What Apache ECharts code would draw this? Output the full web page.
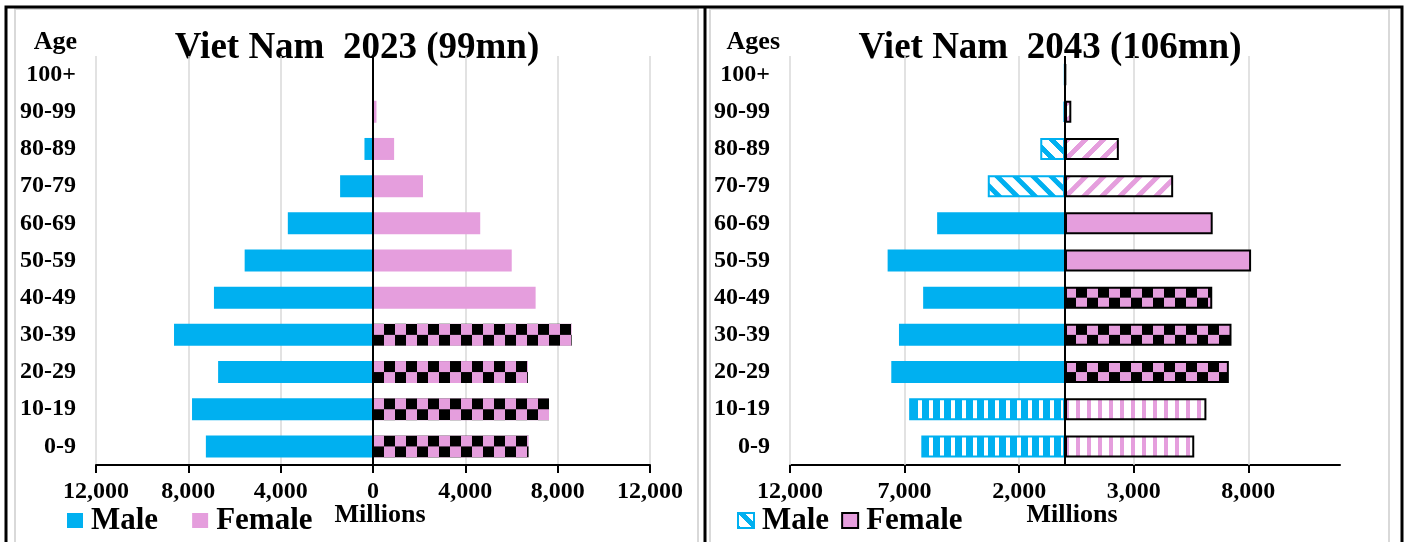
<!DOCTYPE html>
<html>
<head>
<meta charset="utf-8">
<title>Viet Nam population pyramids 2023 / 2043</title>
<script src="https://cdn.jsdelivr.net/npm/echarts@6/dist/echarts.min.js"></script>
<style>
  html, body { margin: 0; padding: 0; background: #fff; }
  #chart { width: 1410px; height: 542px; }
</style>
</head>
<body>
<div id="chart"></div>
<script>
// age groups, bottom to top
const ages = ['0-9', '10-19', '20-29', '30-39', '40-49', '50-59', '60-69', '70-79', '80-89', '90-99', '100+'];

// values as printed on the chart ("Millions")
const male2023 = [7240, 7840, 6710, 8620, 6890, 5560, 3690, 1425, 370, 30, 5];
const female2023 = [6740, 7625, 6710, 8605, 7045, 6010, 4645, 2165, 915, 150, 15];
const male2043 = [6270, 6800, 7580, 7245, 6190, 7740, 5580, 3370, 1080, 60, 20];
const female2043 = [5640, 6170, 7150, 7265, 6425, 8120, 6445, 4720, 2350, 275, 30];

// x axis ticks of the 2043 chart (it does not start at a round number)
const ticks2043 = [-12000, -7000, -2000, 3000, 8000];

// fill of each bar
const maleFill2023 = ['solid', 'solid', 'solid', 'solid', 'solid', 'solid', 'solid', 'solid', 'solid', 'solid', 'solid'];
const femaleFill2023 = ['checker', 'checker', 'checker', 'checker', 'solid', 'solid', 'solid', 'solid', 'solid', 'solid', 'solid'];
const maleFill2043 = ['stripe', 'stripe', 'solid', 'solid', 'solid', 'solid', 'solid', 'hatch', 'hatch', 'hatch', 'hatch'];
const femaleFill2043 = ['stripe', 'stripe', 'checker', 'checker', 'checker', 'solid', 'solid', 'hatch', 'hatch', 'hatch', 'hatch'];

const BLUE = '#00B0F0';
const PINK = '#E59EDD';
const FONT = 'Liberation Serif';
const BAR = 22;

function tile(w, h, draw) {
  const c = document.createElement('canvas');
  c.width = w;
  c.height = h;
  draw(c.getContext('2d'));
  return { image: c, repeat: 'repeat' };
}

const checker = tile(22, 22, ctx => {
  ctx.fillStyle = PINK;
  ctx.fillRect(0, 0, 22, 22);
  ctx.fillStyle = '#000';
  ctx.fillRect(11, 0, 11, 11);
  ctx.fillRect(0, 11, 11, 11);
});

function stripes(color, colorW) {
  return tile(11, 11, ctx => {
    ctx.fillStyle = '#fff';
    ctx.fillRect(0, 0, 11, 11);
    ctx.fillStyle = color;
    ctx.fillRect(0, 0, colorW, 11);
  });
}

function hatch(color, down) {
  const n = 18;
  return tile(n, n, ctx => {
    ctx.fillStyle = '#fff';
    ctx.fillRect(0, 0, n, n);
    ctx.fillStyle = color;
    for (let y = 0; y < n; y++) {
      for (let x = 0; x < n; x++) {
        const k = down ? (x - y + n) % n : (x + y) % n;
        if (k < 7) ctx.fillRect(x, y, 1, 1);
      }
    }
  });
}

const fills = {
  male: { solid: BLUE, stripe: stripes(BLUE, 7), hatch: hatch(BLUE, true) },
  female: { solid: PINK, checker: checker, stripe: stripes(PINK, 4), hatch: hatch(PINK, false) }
};

const fmt = v => Math.abs(v).toLocaleString('en-US');
const labelFont = { fontFamily: FONT, fontWeight: 'bold', color: '#000' };

function xAxis(gridIndex, interval, extra) {
  return Object.assign({
    gridIndex: gridIndex,
    type: 'value',
    min: -12000,
    max: 12000,
    interval: interval,
    axisLine: { show: true, onZero: false, lineStyle: { color: '#000', width: 2 } },
    axisTick: { show: true, length: 8, lineStyle: { color: '#000', width: 2 } },
    axisLabel: Object.assign({ fontSize: 24, margin: 15, formatter: fmt }, labelFont),
    splitLine: { show: true, lineStyle: { color: '#d9d9d9', width: 1.5 } }
  }, extra || {});
}

function yAxis(gridIndex) {
  return {
    gridIndex: gridIndex,
    type: 'category',
    data: ages,
    axisLine: { show: false },
    axisTick: { show: false },
    axisLabel: Object.assign({ fontSize: 24, margin: 20 }, labelFont)
  };
}

const zeroLine = {
  silent: true,
  symbol: ['none', 'none'],
  label: { show: false },
  lineStyle: { color: '#000', width: 2, type: 'solid' },
  data: [{ xAxis: 0 }]
};

function textEl(text, x, y, size, align) {
  return {
    type: 'text',
    x: x,
    y: y,
    style: {
      text: text,
      fontFamily: FONT,
      fontWeight: 'bold',
      fontSize: size,
      fill: '#000',
      textAlign: align,
      textVerticalAlign: 'middle'
    }
  };
}

const legendText = { fontFamily: FONT, fontWeight: 'bold', fontSize: 31, color: '#000', padding: [0, 0, 0, 3] };

const chart = echarts.init(document.getElementById('chart'));
chart.setOption({
  animation: false,
  backgroundColor: '#fff',
  grid: [
    { left: 96, right: 760, top: 56, bottom: 77 },
    { left: 790, right: 70, top: 56, bottom: 77 }
  ],
  xAxis: [
    xAxis(0, 4000),
    xAxis(1, 5000, {
      axisTick: { show: true, length: 8, customValues: ticks2043, lineStyle: { color: '#000', width: 2 } },
      axisLabel: Object.assign({ fontSize: 24, margin: 15, formatter: fmt, customValues: ticks2043 }, labelFont),
      splitLine: { show: false }
    })
  ],
  yAxis: [yAxis(0), yAxis(1)],
  legend: [
    {
      left: 67, top: 505, padding: 0, itemGap: 34, itemWidth: 16, itemHeight: 15,
      selectedMode: false, textStyle: legendText,
      data: [
        { name: 'Male', icon: 'rect', itemStyle: { color: BLUE, borderWidth: 0 } },
        { name: 'Female', icon: 'rect', itemStyle: { color: PINK, borderWidth: 0 } }
      ]
    },
    {
      left: 737, top: 505, padding: 0, itemGap: 12, itemWidth: 16, itemHeight: 15,
      selectedMode: false, textStyle: legendText,
      data: [
        { name: 'Male', icon: 'rect', itemStyle: { color: fills.male.hatch, borderColor: BLUE, borderWidth: 2 } },
        { name: 'Female', icon: 'rect', itemStyle: { color: PINK, borderColor: '#000', borderWidth: 2 } }
      ]
    }
  ],
  series: [
    { name: 'Male', type: 'bar', xAxisIndex: 0, yAxisIndex: 0, stack: 'y2023', barWidth: BAR, data: [] },
    { name: 'Female', type: 'bar', xAxisIndex: 0, yAxisIndex: 0, stack: 'y2023', barWidth: BAR, data: [], markLine: zeroLine },
    {
      name: 'Male', type: 'bar', xAxisIndex: 1, yAxisIndex: 1, stack: 'y2043', barWidth: BAR, data: [],
      // grid lines of the 2043 chart, drawn under the bars
      markLine: {
        z: 1,
        silent: true,
        symbol: ['none', 'none'],
        label: { show: false },
        lineStyle: { color: '#d9d9d9', width: 1.5, type: 'solid' },
        data: ticks2043.map(v => ({ xAxis: v }))
      }
    },
    { name: 'Female', type: 'bar', xAxisIndex: 1, yAxisIndex: 1, stack: 'y2043', barWidth: BAR, data: [], markLine: zeroLine }
  ],
  graphic: [
    // panel borders
    { type: 'rect', shape: { x: 15, y: 9, width: 683, height: 540 }, style: { fill: 'none', stroke: '#d9d9d9', lineWidth: 2 }, z: -1 },
    { type: 'rect', shape: { x: 710, y: 9, width: 679, height: 540 }, style: { fill: 'none', stroke: '#d9d9d9', lineWidth: 2 }, z: -1 },
    // black frame
    { type: 'polyline', shape: { points: [[6, 545], [6, 7], [1402, 7], [1402, 545]] }, style: { fill: 'none', stroke: '#000', lineWidth: 3 } },
    { type: 'line', shape: { x1: 705, y1: 7, x2: 705, y2: 545 }, style: { stroke: '#000', lineWidth: 3 } },
    textEl('Viet Nam  2023 (99mn)', 357, 48, 37, 'center'),
    textEl('Viet Nam  2043 (106mn)', 1050, 48, 37, 'center'),
    textEl('Age', 77, 42, 26, 'right'),
    textEl('Ages', 780, 42, 26, 'right'),
    textEl('Millions', 380, 515, 26, 'center'),
    textEl('Millions', 1072, 515, 26, 'center')
  ]
});

// patterns start at the zero line and at the top of each bar, as in the original
function items(values, fillList, sex, sign, border, grid) {
  const x0 = chart.convertToPixel({ xAxisIndex: grid }, 0);
  return values.map((v, i) => {
    const f = fillList[i];
    const fill = fills[sex][f];
    const top = chart.convertToPixel({ yAxisIndex: grid }, ages[i]) - BAR / 2;
    const style = {
      color: typeof fill === 'string' ? fill : Object.assign({}, fill, { x: x0, y: top })
    };
    if (border && (sex === 'female' || f !== 'solid')) {
      style.borderColor = sex === 'female' ? '#000' : BLUE;
      style.borderWidth = 2;
    }
    return { value: sign * v, itemStyle: style };
  });
}

chart.setOption({
  series: [
    { data: items(male2023, maleFill2023, 'male', -1, false, 0) },
    { data: items(female2023, femaleFill2023, 'female', 1, false, 0) },
    { data: items(male2043, maleFill2043, 'male', -1, true, 1) },
    { data: items(female2043, femaleFill2043, 'female', 1, true, 1) }
  ]
});
</script>
</body>
</html>
